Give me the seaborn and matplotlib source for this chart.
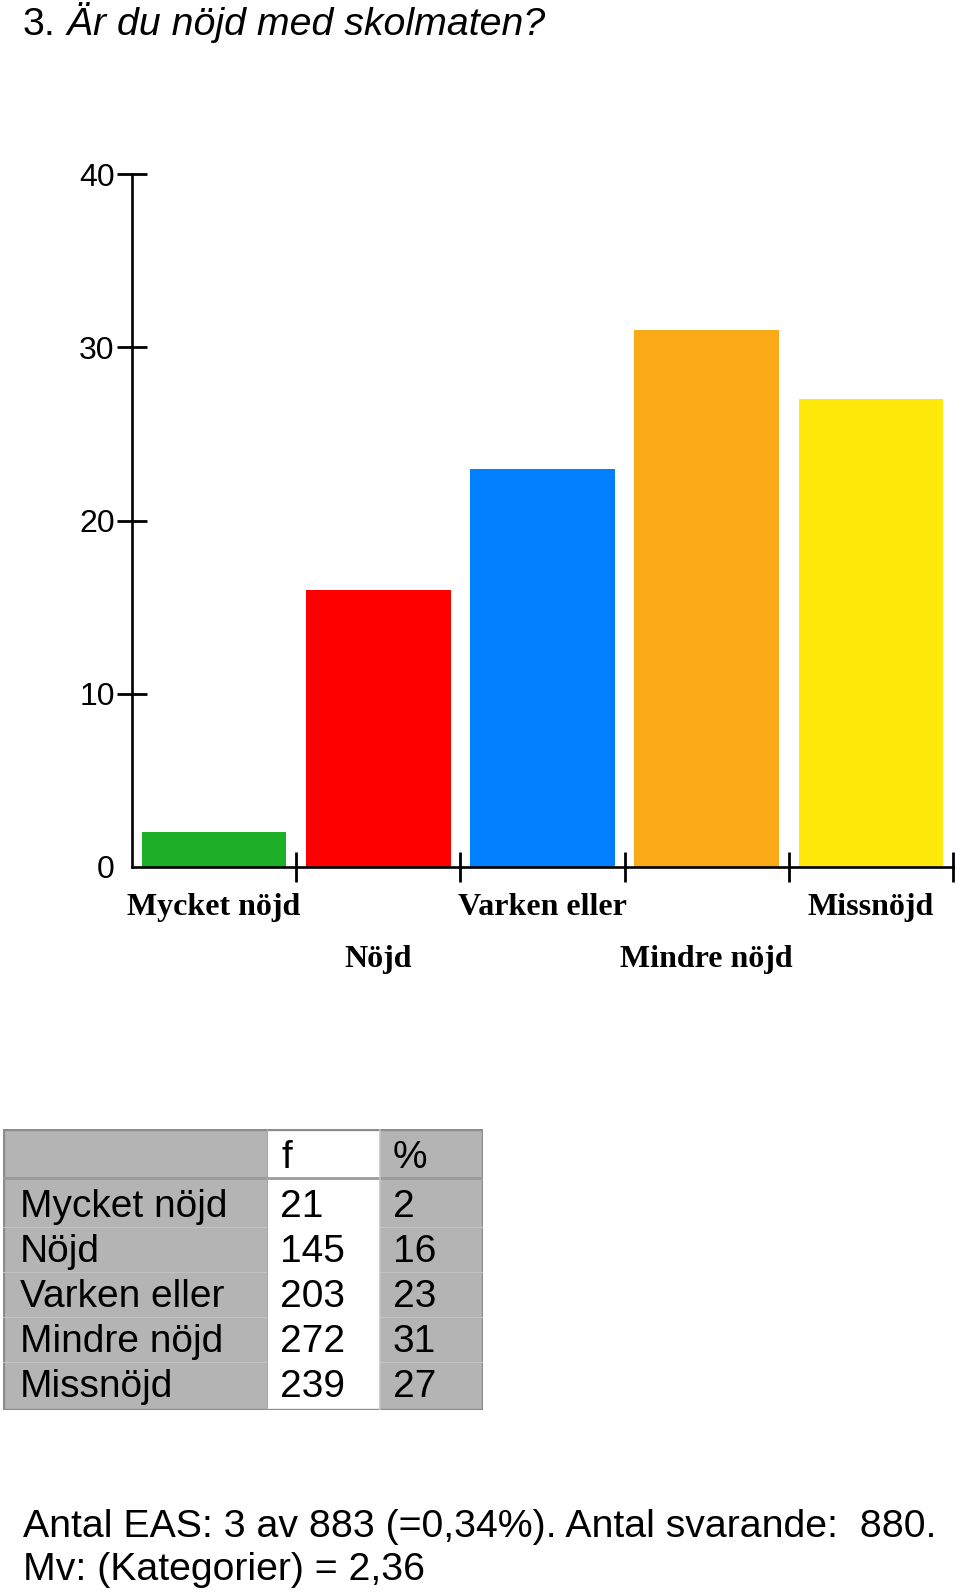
import numpy as np
import pandas as pd
import matplotlib
matplotlib.use("Agg")
import matplotlib.pyplot as plt
import seaborn as sns
from matplotlib.patches import Rectangle
from matplotlib.ticker import FixedLocator

# ---------------- data ----------------
title_num = "3."
title_text = "Är du nöjd med skolmaten?"
categories = ["Mycket nöjd", "Nöjd", "Varken eller", "Mindre nöjd", "Missnöjd"]
percent = [2, 16, 23, 31, 27]
counts = [21, 145, 203, 272, 239]
bar_colors = ["#1CAF27", "#FF0000", "#0080FF", "#FAAA17", "#FFE90A"]
y_ticks = [0, 10, 20, 30, 40]
table_header = ["", "f", "%"]
footer_lines = ["Antal EAS: 3 av 883 (=0,34%). Antal svarande:  880.",
                "Mv: (Kategorier) = 2,36"]

# ---------------- setup ----------------
W, H = 960, 1595
sns.set_theme(style="white")
plt.rcParams["font.family"] = ["Liberation Sans", "DejaVu Sans"]

fig = plt.figure(figsize=(W / 100, H / 100), dpi=100)
fig.patch.set_facecolor("white")


def fx(px):
    return px / W


def fy(py):
    return 1 - py / H


# ---------------- bar chart ----------------
ax = fig.add_axes([fx(132), fy(867), (953 - 132) / W, (867 - 174) / H])
df = pd.DataFrame({"kat": categories, "pct": percent})
sns.barplot(data=df, x="kat", y="pct", hue="kat", palette=bar_colors,
            order=categories, hue_order=categories, legend=False,
            width=0.88, saturation=1, linewidth=0, ax=ax)
ax.set_xlim(-0.5, len(categories) - 0.5)
ax.set_ylim(0, 40)
ax.set_xlabel("")
ax.set_ylabel("")
ax.set_facecolor("white")
for s in ["top", "right"]:
    ax.spines[s].set_visible(False)
for s in ["left", "bottom"]:
    ax.spines[s].set_color("black")
    ax.spines[s].set_linewidth(1.9)

ax.set_yticks(y_ticks)
ax.set_yticklabels([str(v) for v in y_ticks])
ax.tick_params(axis="y", direction="inout", length=22, width=2, color="black",
               labelsize=23, labelcolor="black", pad=1.5, left=True)
ax.yaxis.get_major_ticks()[0].tick1line.set_visible(False)

ax.set_xticks(range(len(categories)))
ax.set_xticklabels(categories, fontfamily="Liberation Serif",
                   fontweight="bold", fontsize=23, color="black")
ax.tick_params(axis="x", which="major", length=0, bottom=True)
ax.xaxis.set_minor_locator(FixedLocator([i + 0.5 for i in range(len(categories))]))
ax.tick_params(axis="x", which="minor", direction="inout", length=22, width=2,
               color="black", bottom=True)
for i, t in enumerate(ax.xaxis.get_major_ticks()):
    t.set_pad(19.0 if i % 2 == 0 else 56.0)

# ---------------- title ----------------
t1 = fig.text(fx(23), fy(35), title_num, fontsize=28.3, va="baseline",
              ha="left", color="black")
ax.annotate(" " + title_text, xy=(1, 0), xycoords=t1, va="bottom", ha="left",
            fontsize=28.3, fontstyle="italic", color="black",
            annotation_clip=False)

# ---------------- table ----------------
tx0, ty0, tw, th = 3, 1129, 480, 281
tax = fig.add_axes([fx(tx0), fy(ty0 + th), tw / W, th / H])
tax.set_xlim(0, tw)
tax.set_ylim(th, 0)
tax.axis("off")
gray = "#B4B4B4"
tax.add_patch(Rectangle((0, 0), tw, th, facecolor=gray, edgecolor="none"))
col_f0, col_f1 = 264, 377
tax.add_patch(Rectangle((col_f0, 0), col_f1 - col_f0, th, facecolor="white",
                        edgecolor="none"))
# header separator
tax.plot([0, tw], [49, 49], color="#9A9A9A", lw=2.0, solid_capstyle="butt")
# row separators in gray columns
for i in range(1, len(categories)):
    yy = 52.5 + 45 * i
    tax.plot([0, col_f0], [yy, yy], color="#C2C2C2", lw=0.8)
    tax.plot([col_f1, tw], [yy, yy], color="#C2C2C2", lw=0.8)
tax.plot([col_f0, col_f0], [0, th], color="#A8A8A8", lw=0.8)
tax.plot([col_f1, col_f1], [0, th], color="#C4C4C4", lw=1.2)
tax.add_patch(Rectangle((0, 0), tw, th, facecolor="none", edgecolor="#8C8C8C",
                        lw=2.4))

fs_t = 28.0
tax.text(279, 39, table_header[1], fontsize=fs_t, va="baseline", ha="left", color="black")
tax.text(390, 39, table_header[2], fontsize=fs_t, va="baseline", ha="left", color="black")
for i, (c, n, p) in enumerate(zip(categories, counts, percent)):
    yb = 88 + 45 * i
    tax.text(17, yb, c, fontsize=fs_t, va="baseline", ha="left", color="black")
    tax.text(277, yb, str(n), fontsize=fs_t, va="baseline", ha="left", color="black")
    tax.text(390, yb, str(p), fontsize=fs_t, va="baseline", ha="left", color="black")

# ---------------- footer ----------------
fig.text(fx(23), fy(1537), footer_lines[0], fontsize=28.3, va="baseline",
         ha="left", color="black")
fig.text(fx(23), fy(1580), footer_lines[1], fontsize=28.3, va="baseline",
         ha="left", color="black")

fig.savefig("out.png", dpi=100, facecolor="white")
